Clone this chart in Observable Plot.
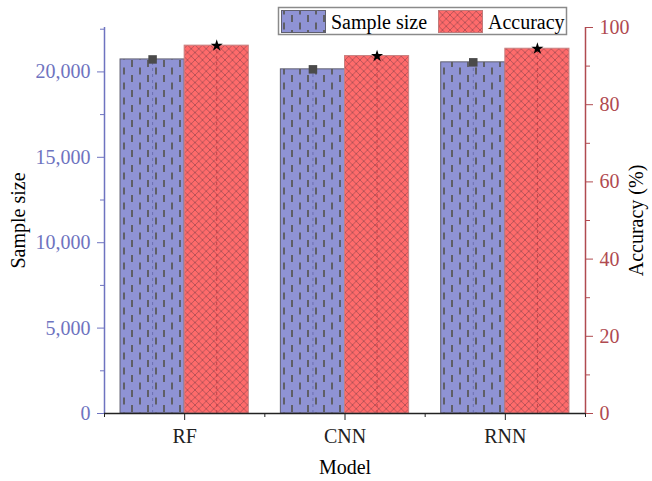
<!DOCTYPE html>
<html>
<head>
<meta charset="utf-8">
<script src="https://cdn.jsdelivr.net/npm/d3@7"></script>
<script src="https://cdn.jsdelivr.net/npm/@observablehq/plot@0.6"></script>
<style>
  html, body { margin: 0; padding: 0; background: #fff; }
  #chart svg { display: block; }
  #chart svg text { font-size: 20px; }
</style>
</head>
<body>
<div id="chart"></div>
<script>
// ---- data ----
const models = ["RF", "CNN", "RNN"];
const sampleSize = [20730, 20150, 20560];
const accuracy = [95.3, 92.6, 94.5];
const sampleTicks = [0, 5000, 10000, 15000, 20000];
const sampleMinorTicks = [2500, 7500, 12500, 17500, 22500];
const accTicks = [0, 20, 40, 60, 80, 100];
const accMinorTicks = [10, 30, 50, 70, 90];
const seriesNames = ["Sample size", "Accuracy"];

// ---- layout / style ----
const SAMPLE_MAX = 22600;
const ACC_MAX = 100;
const accToY = v => v * SAMPLE_MAX / ACC_MAX;
const BAR_W = 0.4;
const blueAxis = "#6e73c0";
const redAxis = "#b04a50";
const blueFill = "#8f93d4";
const redFill = "#ff6b6b";
const font = "'Liberation Serif', 'Times New Roman', serif";

const sampleData = models.map((m, i) => ({i, model: m, value: sampleSize[i]}));
const accData = models.map((m, i) => ({i, model: m, value: accToY(accuracy[i])}));

function defsMark() {
  const defs = d3.create("svg:defs");
  const pb = defs.append("pattern").attr("id", "patBlue").attr("patternUnits", "userSpaceOnUse")
    .attr("width", 16).attr("height", 15);
  pb.append("rect").attr("width", 16).attr("height", 15).attr("fill", blueFill);
  pb.append("line").attr("x1", 4).attr("x2", 4).attr("y1", 0).attr("y2", 7)
    .attr("stroke", "#5f5f66").attr("stroke-width", 2);
  pb.append("line").attr("x1", 12).attr("x2", 12).attr("y1", 7.5).attr("y2", 14.5)
    .attr("stroke", "#5f5f66").attr("stroke-width", 2);
  const pr = defs.append("pattern").attr("id", "patRed").attr("patternUnits", "userSpaceOnUse")
    .attr("width", 7.5).attr("height", 7.5);
  pr.append("rect").attr("width", 7.5).attr("height", 7.5).attr("fill", redFill);
  pr.append("path").attr("d", "M0,0L7.5,7.5M7.5,0L0,7.5")
    .attr("stroke", "#9a4a50").attr("stroke-width", 0.7).attr("fill", "none");
  return defs.node();
}

function legendMark() {
  const g = d3.create("svg:g").attr("font-family", font).attr("font-size", 20)
    .attr("text-anchor", "start");
  g.append("rect").attr("x", 278.5).attr("y", 7.5).attr("width", 288).attr("height", 27)
    .attr("fill", "#fff").attr("stroke", "#8a8a8a").attr("stroke-width", 1.5);
  const items = [
    {name: seriesNames[0], fill: "url(#patBlue)", stroke: "#5f5f6f", x: 281},
    {name: seriesNames[1], fill: "url(#patRed)", stroke: "#c07a7a", x: 438}
  ];
  for (const it of items) {
    g.append("rect").attr("x", it.x + 0.5).attr("y", 10.5).attr("width", 44).attr("height", 22)
      .attr("fill", it.fill).attr("stroke", it.stroke);
    g.append("text").attr("x", it.x + 50).attr("y", 28.5).attr("fill", "#000")
      .attr("text-anchor", "start").text(it.name);
  }
  return g.node();
}

const chart = Plot.plot({
  width: 652,
  height: 481,
  marginLeft: 104,
  marginRight: 67,
  marginTop: 27,
  marginBottom: 68,
  style: {fontFamily: font, fontSize: "20px", background: "#fff"},
  x: {type: "linear", domain: [-0.5, models.length - 0.5], axis: null},
  y: {domain: [0, SAMPLE_MAX], axis: null},
  marks: [
    defsMark,
    // bars
    Plot.rect(sampleData, {x1: d => d.i - BAR_W, x2: d => d.i, y1: 0, y2: "value",
      fill: "url(#patBlue)", stroke: "#5f5f6f", strokeWidth: 1}),
    Plot.rect(accData, {x1: d => d.i, x2: d => d.i + BAR_W, y1: 0, y2: "value",
      fill: "url(#patRed)", stroke: "#c88080", strokeWidth: 1}),
    // center dashed lines
    Plot.ruleX(sampleData, {x: d => d.i - BAR_W / 2, y1: 0, y2: "value",
      stroke: "#6c70b0", strokeDasharray: "3,3", strokeWidth: 1}),
    Plot.ruleX(accData, {x: d => d.i + BAR_W / 2, y1: 0, y2: "value",
      stroke: "#c04048", strokeDasharray: "3,3", strokeWidth: 1}),
    // markers
    Plot.dot(sampleData, {x: d => d.i - BAR_W / 2, y: "value", symbol: "square", r: 4.8,
      fill: "#4a4a4a"}),
    Plot.dot(accData, {x: d => d.i + BAR_W / 2, y: "value", symbol: "star", r: 3.8,
      fill: "#000"}),
    // axis lines
    Plot.ruleX([-0.5], {stroke: blueAxis, strokeWidth: 1.5}),
    Plot.ruleX([models.length - 0.5], {stroke: redAxis, strokeWidth: 1.5}),
    Plot.ruleY([0], {stroke: "#222", strokeWidth: 1.5}),
    // left axis
    Plot.axisY({anchor: "left", ticks: sampleTicks, tickFormat: d3.format(","), color: blueAxis,
      tickSize: 7, tickPadding: 7, fontSize: 20, label: null}),
    Plot.axisY({anchor: "left", ticks: sampleMinorTicks, tickFormat: () => "", color: blueAxis,
      tickSize: 4, label: null}),
    // right axis
    Plot.axisY({anchor: "right", ticks: accTicks.map(accToY), tickFormat: v => Math.round(v * ACC_MAX / SAMPLE_MAX),
      color: redAxis, tickSize: 7, tickPadding: 7, fontSize: 20, label: null}),
    Plot.axisY({anchor: "right", ticks: accMinorTicks.map(accToY), tickFormat: () => "", color: redAxis,
      tickSize: 4, label: null}),
    // bottom axis
    Plot.axisX({anchor: "bottom", ticks: models.map((m, i) => i), tickFormat: i => models[i],
      color: "#222", tickSize: 7, tickPadding: 8, fontSize: 20, label: null}),
    Plot.axisX({anchor: "bottom", ticks: d3.range(models.length + 1).map(i => i - 0.5), tickFormat: () => "",
      color: "#222", tickSize: 4, label: null}),
    // axis titles
    Plot.text(["Sample size"], {frameAnchor: "left", dx: -86, rotate: -90, fontSize: 20,
      fill: "#000", textAnchor: "middle", lineAnchor: "middle"}),
    Plot.text(["Accuracy (%)"], {frameAnchor: "right", dx: 51, rotate: -90, fontSize: 20,
      fill: "#000", textAnchor: "middle", lineAnchor: "middle"}),
    Plot.text(["Model"], {frameAnchor: "bottom", dy: 54, fontSize: 20, fill: "#000",
      textAnchor: "middle", lineAnchor: "middle"}),
    legendMark
  ]
});
document.getElementById("chart").appendChild(chart);
</script>
</body>
</html>
